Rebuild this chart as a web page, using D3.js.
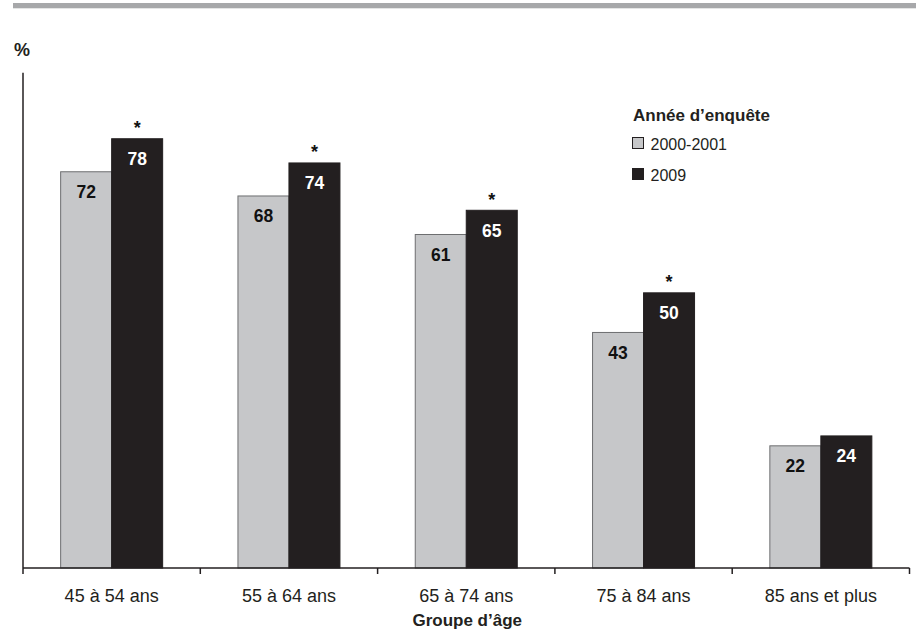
<!DOCTYPE html>
<html>
<head>
<meta charset="utf-8">
<script src="https://cdn.jsdelivr.net/npm/d3@7"></script>
<style>
  html, body { margin: 0; padding: 0; background: #fff; }
  svg { display: block; font-family: "Liberation Sans", Arial, Helvetica, sans-serif; }
</style>
</head>
<body>
<svg id="chart" width="916" height="633"></svg>
<script>
const categories = ["45 à 54 ans", "55 à 64 ans", "65 à 74 ans", "75 à 84 ans", "85 ans et plus"];
const series = ["2000-2001", "2009"];
const values2000 = [72.0, 67.6, 60.6, 42.8, 22.2];
const values2009 = [78.0, 73.6, 65.0, 50.0, 24.0];
const significant = [true, true, true, true, false];
const yMax = 90;

(function () {
const colors = { "2000-2001": "#c6c7c9", "2009": "#231f20" };
const strokes = { "2000-2001": "#6d6e70", "2009": "#231f20" };
const labelColors = { "2000-2001": "#111", "2009": "#fff" };
const fmt = d3.format(".0f");

const svg = d3.select("#chart");
const mLeft = 23, mRight = 909.5, mTop = 72.7, mBottom = 568;

// top band
svg.append("rect").attr("x", 13).attr("y", 3).attr("width", 903).attr("height", 5.3).attr("fill", "#a7a8aa");

const x0 = d3.scaleBand().domain(categories).range([mLeft, mRight]).paddingInner(0).paddingOuter(0);
const barW = 51;
const x1 = d3.scaleBand().domain(series).range([-barW, barW]).padding(0);
const y = d3.scaleLinear().domain([0, yMax]).range([mBottom, mTop]);

const rows = categories.map((c, i) => ({
  cat: c,
  sig: significant[i],
  vals: [{ s: "2000-2001", v: values2000[i] }, { s: "2009", v: values2009[i] }]
}));

const g = svg.append("g");
const groups = g.selectAll("g.grp").data(rows).join("g")
  .attr("transform", d => `translate(${x0(d.cat) + x0.bandwidth() / 2},0)`);

groups.selectAll("rect").data(d => d.vals).join("rect")
  .attr("x", d => x1(d.s))
  .attr("y", d => y(d.v))
  .attr("width", x1.bandwidth())
  .attr("height", d => y(0) - y(d.v))
  .attr("fill", d => colors[d.s])
  .attr("stroke", d => strokes[d.s])
  .attr("stroke-width", 1);

groups.selectAll("text.val").data(d => d.vals).join("text")
  .attr("class", "val")
  .attr("x", d => x1(d.s) + x1.bandwidth() / 2)
  .attr("y", d => y(d.v) + 26.5)
  .attr("text-anchor", "middle")
  .attr("font-size", "17.5px")
  .attr("font-weight", "bold")
  .attr("fill", d => labelColors[d.s])
  .text(d => fmt(d.v));

groups.filter(d => d.sig).append("text")
  .attr("x", x1("2009") + x1.bandwidth() / 2)
  .attr("y", d => y(d.vals[1].v) - 4.5)
  .attr("text-anchor", "middle")
  .attr("font-size", "18px")
  .attr("font-weight", "bold")
  .attr("fill", "#111")
  .text("*");

// axes
const xAxis = d3.axisBottom(x0).tickSize(0).tickPadding(0);
const axG = svg.append("g").attr("transform", `translate(0,${mBottom})`).call(xAxis);
axG.select(".domain").remove();
axG.selectAll(".tick text")
  .attr("y", 33.7).attr("dy", 0)
  .attr("font-size", "18px")
  .attr("font-family", "Liberation Sans, Arial, sans-serif")
  .attr("fill", "#231f20");

svg.append("line").attr("x1", mLeft).attr("x2", mRight).attr("y1", mBottom).attr("y2", mBottom)
  .attr("stroke", "#231f20").attr("stroke-width", 1.5);
svg.append("line").attr("x1", mLeft).attr("x2", mLeft).attr("y1", mTop).attr("y2", mBottom)
  .attr("stroke", "#231f20").attr("stroke-width", 1.5);

const boundaries = categories.map(c => x0(c)).concat([x0(categories[categories.length - 1]) + x0.bandwidth()]);
svg.selectAll("line.bt").data(boundaries).join("line")
  .attr("class", "bt")
  .attr("x1", d => d).attr("x2", d => d)
  .attr("y1", mBottom).attr("y2", mBottom + 6)
  .attr("stroke", "#231f20").attr("stroke-width", 1.5);

svg.append("text").attr("x", 14).attr("y", 56)
  .attr("font-size", "18px").attr("font-weight", "bold").attr("fill", "#231f20").text("%");

svg.append("text").attr("x", (mLeft + mRight) / 2 + 1).attr("y", 626)
  .attr("text-anchor", "middle")
  .attr("font-size", "17px").attr("font-weight", "bold").attr("fill", "#231f20").text("Groupe d’âge");

// legend
const lg = svg.append("g").attr("transform", "translate(632,0)");
lg.append("text").attr("x", 1).attr("y", 121)
  .attr("font-size", "17px").attr("font-weight", "bold").attr("fill", "#231f20").text("Année d’enquête");
const items = lg.selectAll("g.item").data(series).join("g")
  .attr("transform", (d, i) => `translate(0,${137.5 + i * 31})`);
items.append("rect").attr("x", 0.5).attr("y", 0).attr("width", 11).attr("height", 11)
  .attr("fill", d => colors[d]).attr("stroke", "#231f20").attr("stroke-width", 1);
items.append("text").attr("x", 18.5).attr("y", 12)
  .attr("font-size", "16px").attr("fill", "#231f20").text(d => d);
})();
</script>
</body>
</html>
